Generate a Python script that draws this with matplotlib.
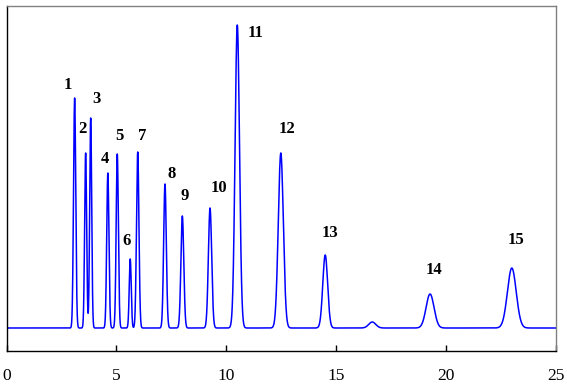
import numpy as np
import matplotlib
matplotlib.use('Agg')
import matplotlib.pyplot as plt

etiquetas = ['1', '2', '3', '4', '5', '6', '7', '8', '9', '10', '11', '12', '13', '14', '15', '']
tiempos = [3.10, 3.60, 3.83, 4.61, 5.04, 5.63, 5.97, 7.21, 8.00, 9.26, 10.50, 12.48, 14.50, 19.27, 22.99, 16.64]
alturas = [230, 175, 210, 155, 174, 69, 176, 144, 112, 120, 303, 175, 73, 34, 60, 6]
anchos = [0.05, 0.045, 0.045, 0.05, 0.05, 0.045, 0.055, 0.06, 0.065, 0.075, 0.10, 0.115, 0.11, 0.18, 0.20, 0.16]

# desplazamiento de cada etiqueta respecto al maximo (x en min, y en unidades)
desp_x = [-0.32, -0.14, 0.28, -0.13, 0.10, -0.15, 0.19, 0.31, 0.12, 0.42, 0.84, 0.26, 0.23, 0.18, 0.18, 0]
desp_y = [13, 24, 19, 14, 18, 18, 16, 10, 20, 20, -8, 24, 22, 24, 28, 0]

t = np.linspace(0, 25, 5001)
senal = np.zeros_like(t)
for tr, h, s in zip(tiempos, alturas, anchos):
    senal += h * np.exp(-0.5 * ((t - tr) / s) ** 2)

plt.rcParams['font.family'] = ['Liberation Serif', 'DejaVu Serif']

fig = plt.figure(figsize=(5.67, 3.89), dpi=100)
ax = fig.add_axes([6.5 / 567, 1 - 351 / 389, (556 - 6.5) / 567, (351 - 6) / 389])
ax.plot(t, senal, color='#0000FF', linewidth=1.1)

for et, tr, h, dx, dy in zip(etiquetas, tiempos, alturas, desp_x, desp_y):
    if et:
        ax.text(tr + dx, h + dy, et, ha='center', va='center',
                fontsize=12, fontweight='bold')

ax.set_xlim(0, 25)
ax.set_ylim(-23, 322)
ax.set_xticks([0, 5, 10, 15, 20, 25])
ax.set_yticks([])
ax.tick_params(axis='x', direction='in', length=4.5, width=1, pad=12, labelsize=12.5)
ax.spines['top'].set_color('#808080')
ax.spines['right'].set_color('#808080')
for sp in ax.spines.values():
    sp.set_linewidth(1)

fig.savefig('out.png', dpi=100)
